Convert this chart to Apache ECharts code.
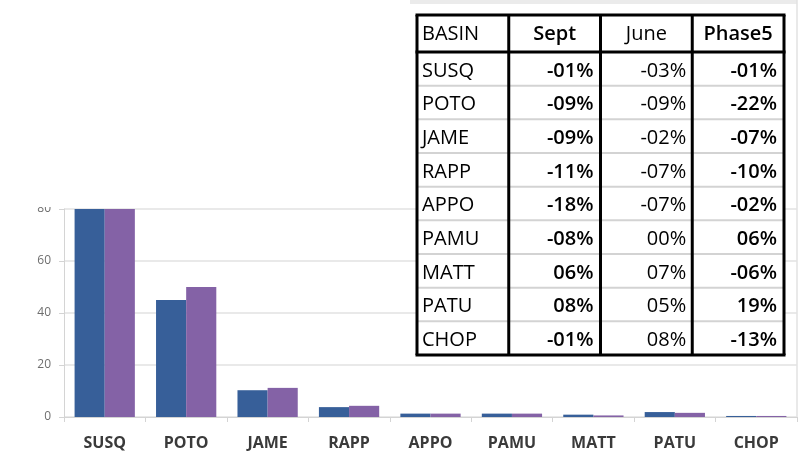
<!DOCTYPE html>
<html>
<head>
<meta charset="utf-8">
<style>
    html, body { margin: 0; padding: 0; background: #fff; }
    #chart { width: 803px; height: 455px; }
</style>
<script src="https://cdn.jsdelivr.net/npm/echarts@6/dist/echarts.min.js"></script>
</head>
<body>
<div id="chart"></div>
<script>
// basins along the x axis
const basins = ['SUSQ', 'POTO', 'JAME', 'RAPP', 'APPO', 'PAMU', 'MATT', 'PATU', 'CHOP'];
// bar heights (SUSQ runs past the cropped top, so only "> 80" is known)
const blueValues = [118, 45, 10.3, 3.8, 1.3, 1.3, 0.9, 1.9, 0.4];
const purpleValues = [121, 50, 11.2, 4.3, 1.3, 1.3, 0.6, 1.6, 0.4];

// the table pasted over the chart
const tableHeader = ['BASIN', 'Sept', 'June', 'Phase5'];
const septPct = ['-01%', '-09%', '-09%', '-11%', '-18%', '-08%', '06%', '08%', '-01%'];
const junePct = ['-03%', '-09%', '-02%', '-07%', '-07%', '00%', '07%', '05%', '08%'];
const phasePct = ['-01%', '-22%', '-07%', '-10%', '-02%', '06%', '-06%', '19%', '-13%'];

const FONT = '"Open Sans", "DejaVu Sans", sans-serif';

// table layout
const tbl = { left: 417, top: 15, colW: 91.75, headH: 37, rowH: 33.67 };
const tblRight = tbl.left + tbl.colW * 4;
const tblBodyTop = tbl.top + tbl.headH;
const tblBottom = tblBodyTop + tbl.rowH * basins.length;

const line = (x1, y1, x2, y2, color, width) => ({
    type: 'line',
    z: 102,
    shape: { x1, y1, x2, y2 },
    style: { stroke: color, lineWidth: width }
});

const cellText = (text, x, y, align, bold) => ({
    type: 'text',
    z: 104,
    x, y,
    style: {
        text,
        fill: '#000',
        font: (bold ? '600 ' : '') + '20px ' + FONT,
        align,
        verticalAlign: 'middle'
    }
});

const buildTable = () => {
    const els = [];
    // white cell area
    els.push({
        type: 'rect', z: 101,
        shape: { x: tbl.left, y: tbl.top, width: tblRight - tbl.left, height: tblBottom - tbl.top },
        style: { fill: '#fff' }
    });
    // light row separators
    for (let i = 1; i < basins.length; i++) {
        const y = tblBodyTop + i * tbl.rowH;
        els.push(line(tbl.left, y, tblRight, y, '#d3d3d3', 2));
    }
    // heavy borders
    els.push(line(tbl.left - 1.5, tbl.top, tblRight + 1.5, tbl.top, '#000', 3));
    els.push(line(tbl.left - 1.5, tblBodyTop, tblRight + 1.5, tblBodyTop, '#000', 3));
    els.push(line(tbl.left - 1.5, tblBottom, tblRight + 1.5, tblBottom, '#000', 3));
    for (let j = 0; j <= 4; j++) {
        const x = tbl.left + j * tbl.colW;
        els.push(line(x, tbl.top, x, tblBottom, '#000', 3));
    }
    // header
    const headY = tbl.top + tbl.headH / 2 + 1;
    els.push(cellText(tableHeader[0], tbl.left + 5, headY, 'left', false));
    els.push(cellText(tableHeader[1], tbl.left + tbl.colW * 1.5, headY, 'center', true));
    els.push(cellText(tableHeader[2], tbl.left + tbl.colW * 2.5, headY, 'center', false));
    els.push(cellText(tableHeader[3], tbl.left + tbl.colW * 3.5, headY, 'center', true));
    // body
    basins.forEach((b, i) => {
        const y = tblBodyTop + tbl.rowH * (i + 0.5) + 2;
        els.push(cellText(b, tbl.left + 5, y, 'left', false));
        els.push(cellText(septPct[i], tbl.left + tbl.colW * 2 - 7, y, 'right', true));
        els.push(cellText(junePct[i], tbl.left + tbl.colW * 3 - 6, y, 'right', false));
        els.push(cellText(phasePct[i], tbl.left + tbl.colW * 4 - 7, y, 'right', true));
    });
    return els;
};

const chart = echarts.init(document.getElementById('chart'), null, { renderer: 'canvas' });

chart.setOption({
    animation: false,
    backgroundColor: '#fff',
    grid: { left: 64, right: 6, top: 209, bottom: 38, outerBoundsMode: 'none' },
    xAxis: {
        type: 'category',
        data: basins,
        axisLine: { lineStyle: { color: '#d4d4d4', width: 1 } },
        axisTick: { show: true, length: 5, lineStyle: { color: '#d4d4d4' } },
        axisLabel: { color: '#3a3a3a', fontSize: 16, fontWeight: 'bold', fontFamily: FONT, margin: 18 }
    },
    yAxis: {
        type: 'value',
        min: 0,
        max: 80,
        interval: 20,
        axisLine: { show: true, lineStyle: { color: '#d4d4d4', width: 1 } },
        axisTick: { show: true, length: 5, lineStyle: { color: '#d4d4d4' } },
        axisLabel: { color: '#6e6e6e', fontSize: 12, fontFamily: FONT, margin: 13 },
        splitLine: { lineStyle: { color: '#e2e2e2', width: 1.5 } }
    },
    series: [
        {
            name: 'Series 1',
            type: 'bar',
            data: blueValues,
            barGap: '0%',
            barCategoryGap: '26%',
            itemStyle: { color: '#375f99' }
        },
        {
            name: 'Series 2',
            type: 'bar',
            data: purpleValues,
            barGap: '0%',
            barCategoryGap: '26%',
            itemStyle: { color: '#8462a6' }
        }
    ],
    graphic: [
        // the picture is cropped just above the 80 line
        { type: 'rect', z: 100, shape: { x: 0, y: 0, width: 62, height: 207 }, style: { fill: '#fff' } },
        // faint sheet lines around the pasted table
        line(410, 2, 797, 2, '#ebebeb', 4),
        line(797, 0, 797, 417, '#e2e2e2', 1.5),
        ...buildTable()
    ]
});
</script>
</body>
</html>
